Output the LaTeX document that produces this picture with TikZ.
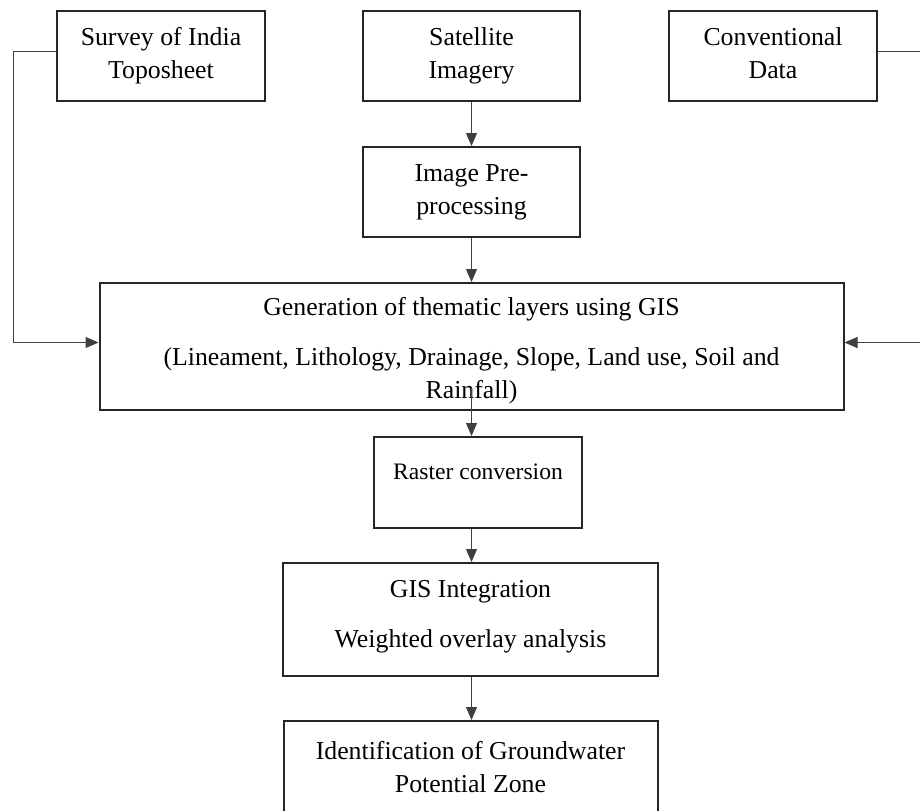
\documentclass[tikz,border=0pt]{standalone}
\usepackage{fontspec}
\setmainfont{Liberation Serif}
\usepackage{tikz}
\usetikzlibrary{positioning,arrows.meta}

\begin{document}
\begin{tikzpicture}[x=0.5pt,y=-0.5pt,
  box/.style={draw=black!85, line width=1pt, align=center, inner sep=0pt,
    font=\fontsize{12.9}{16.5}\selectfont},
  arr/.style={draw=black!75, line width=0.5pt, -{Triangle[length=6.5pt,width=5.5pt]}}]
\useasboundingbox (0,0) rectangle (920,810);

% Input data
\node[box, minimum width=104pt, minimum height=45pt] (sur) at (161,56) {Survey of India\\Toposheet};
\node[box, minimum width=108.5pt, minimum height=45pt] (sat) at (471.5,56) {Satellite\\Imagery};
\node[box, minimum width=104pt, minimum height=45pt] (con) at (773,56) {Conventional\\Data\vphantom{p}};

% Processing chain
\node[box, minimum width=108.5pt, minimum height=45pt, below=22pt of sat] (pre) {Image Pre-\\processing};
\node[box, minimum width=372pt, minimum height=63.5pt, below=22pt of pre] (gen)
  {\rule{0pt}{13pt}Generation of thematic layers using GIS\\[8.5pt]
   (Lineament, Lithology, Drainage, Slope, Land use, Soil and\\Rainfall)};
\node[box, minimum width=104pt, minimum height=45.5pt, below=12.5pt of gen, xshift=3.25pt,
  text depth=11pt, font=\fontsize{11.8}{14}\selectfont] (ras) {Raster conversion};
\node[box, minimum width=187.5pt, minimum height=56.5pt, below=16.5pt of ras, xshift=-3.75pt] (gis)
  {GIS Integration\\[8.5pt]Weighted overlay analysis\\[-10.5pt]\mbox{}};
\node[box, minimum width=187pt, minimum height=46pt, below=21.5pt of gis] (idz)
  {Identification of Groundwater\\Potential Zone};

% Connectors
\draw[arr] ([yshift=2.5pt]sur.west) -- ++(-43,0) |- ([yshift=2pt]gen.west);
\draw[arr] ([yshift=2.5pt]con.east) -- ++(42,0) |- ([yshift=2pt]gen.east);
\draw[arr] (sat) -- (pre);
\draw[arr] (pre) -- (gen);
\draw[arr] ([yshift=12pt]gen.south -| pre.south) -- (ras.north -| pre.south);
\draw[arr] (ras.south -| pre.south) -- (gis.north -| pre.south);
\draw[arr] (gis.south -| pre.south) -- (idz.north -| pre.south);
\end{tikzpicture}
\end{document}
